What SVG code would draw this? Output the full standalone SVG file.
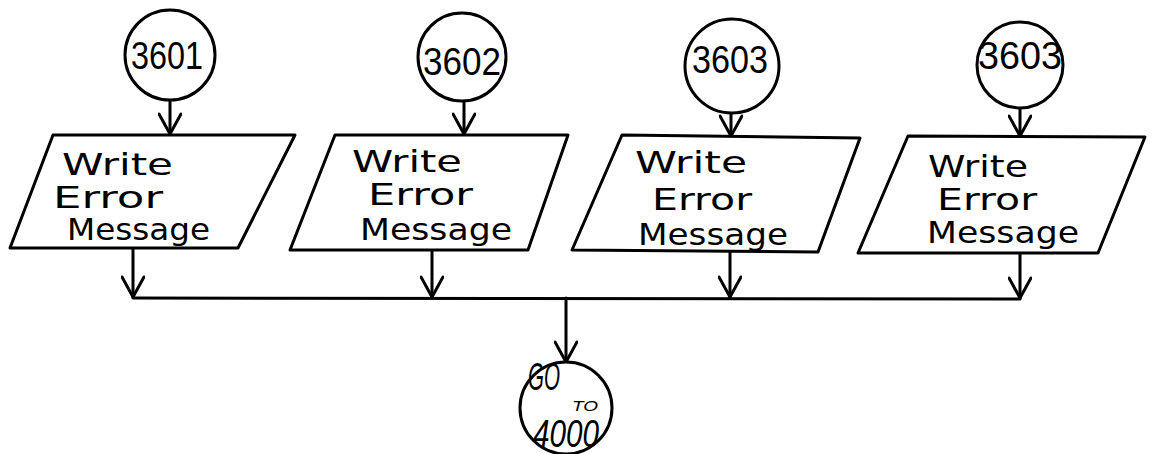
<svg xmlns="http://www.w3.org/2000/svg" width="1154" height="454" viewBox="0 0 1154 454">
  <style>
    .shape { fill: #ffffff; stroke: #000000; stroke-width: 3; stroke-linejoin: round; }
    .line { fill: none; stroke: #000000; stroke-width: 3; stroke-linecap: round; stroke-linejoin: round; }
    .label { font-family: "DejaVu Sans", "Liberation Sans", sans-serif; font-size: 30px; fill: #000000; }
    .num { font-family: "Liberation Sans", "DejaVu Sans", sans-serif; font-size: 38px; fill: #000000; }
    .small { font-family: "Liberation Sans", "DejaVu Sans", sans-serif; font-size: 15px; fill: #000000; font-style: italic; }
  </style>
  <defs>
    <marker id="vee" viewBox="0 0 24 24" refX="22" refY="12" markerWidth="24" markerHeight="24" markerUnits="userSpaceOnUse" orient="auto">
      <path d="M2,1 L22,12 L2,23" fill="none" stroke="#000000" stroke-width="3" stroke-linecap="round" stroke-linejoin="round"/>
    </marker>
  </defs>
  <rect width="1154" height="454" fill="#ffffff"/>

  <!-- connectors -->
  <g id="connectors">
    <line class="line" x1="170" y1="100" x2="170" y2="134" marker-end="url(#vee)"/>
    <line class="line" x1="464" y1="101" x2="464" y2="134" marker-end="url(#vee)"/>
    <line class="line" x1="731" y1="113" x2="731" y2="136" marker-end="url(#vee)"/>
    <line class="line" x1="1020" y1="107" x2="1020" y2="136" marker-end="url(#vee)"/>
    <line class="line" x1="133" y1="248" x2="133" y2="297" marker-end="url(#vee)"/>
    <line class="line" x1="432" y1="250" x2="432" y2="297" marker-end="url(#vee)"/>
    <line class="line" x1="730" y1="252" x2="730" y2="297" marker-end="url(#vee)"/>
    <line class="line" x1="1020" y1="253" x2="1020" y2="298" marker-end="url(#vee)"/>
    <line class="line" x1="133" y1="298" x2="1020" y2="299"/>
    <line class="line" x1="566" y1="298" x2="566" y2="362" marker-end="url(#vee)"/>
  </g>

  <!-- entry connectors -->
  <g id="c3601">
    <circle class="shape" cx="170" cy="55" r="45"/>
    <text class="num" x="131" y="69" textLength="72" lengthAdjust="spacingAndGlyphs">3601</text>
  </g>
  <g id="c3602">
    <circle class="shape" cx="462" cy="57" r="44"/>
    <text class="num" x="423" y="75" textLength="78" lengthAdjust="spacingAndGlyphs">3602</text>
  </g>
  <g id="c3603a">
    <circle class="shape" cx="732" cy="66" r="47"/>
    <text class="num" x="692" y="73" textLength="76" lengthAdjust="spacingAndGlyphs">3603</text>
  </g>
  <g id="c3603b">
    <circle class="shape" cx="1020" cy="65" r="43"/>
    <text class="num" x="978" y="69" textLength="84" lengthAdjust="spacingAndGlyphs">3603</text>
  </g>

  <!-- output steps -->
  <g id="write1">
    <polygon class="shape" points="53,135 295,135 238,248 10,248"/>
    <text class="label" x="62" y="175" textLength="111" lengthAdjust="spacingAndGlyphs">Write</text>
    <text class="label" x="53" y="208" textLength="110" lengthAdjust="spacingAndGlyphs">Error</text>
    <text class="label" x="67" y="240" textLength="143" lengthAdjust="spacingAndGlyphs">Message</text>
  </g>
  <g id="write2">
    <polygon class="shape" points="335,135 568,135 528,250 290,250"/>
    <text class="label" x="352" y="172" textLength="110" lengthAdjust="spacingAndGlyphs">Write</text>
    <text class="label" x="368" y="205" textLength="105" lengthAdjust="spacingAndGlyphs">Error</text>
    <text class="label" x="360" y="240" textLength="152" lengthAdjust="spacingAndGlyphs">Message</text>
  </g>
  <g id="write3">
    <polygon class="shape" points="622,135 860,138 818,252 572,250"/>
    <text class="label" x="635" y="173" textLength="112" lengthAdjust="spacingAndGlyphs">Write</text>
    <text class="label" x="652" y="210" textLength="100" lengthAdjust="spacingAndGlyphs">Error</text>
    <text class="label" x="638" y="245" textLength="150" lengthAdjust="spacingAndGlyphs">Message</text>
  </g>
  <g id="write4">
    <polygon class="shape" points="908,136 1145,137 1098,253 858,253"/>
    <text class="label" x="928" y="177" textLength="100" lengthAdjust="spacingAndGlyphs">Write</text>
    <text class="label" x="937" y="210" textLength="100" lengthAdjust="spacingAndGlyphs">Error</text>
    <text class="label" x="927" y="243" textLength="152" lengthAdjust="spacingAndGlyphs">Message</text>
  </g>

  <!-- exit connector -->
  <g id="goto4000">
    <circle class="shape" cx="566" cy="408" r="46"/>
    <text class="num" x="528" y="390" font-size="20" font-style="italic" textLength="32" lengthAdjust="spacingAndGlyphs">GO</text>
    <text class="small" x="572" y="411" textLength="26" lengthAdjust="spacingAndGlyphs">TO</text>
    <text class="num" x="533" y="447" font-size="24" font-style="italic" textLength="66" lengthAdjust="spacingAndGlyphs">4000</text>
  </g>
</svg>
